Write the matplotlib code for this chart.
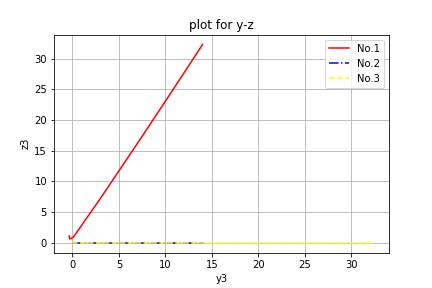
import matplotlib
matplotlib.use("Agg")
import matplotlib.pyplot as plt

y1 = [-0.35, -0.3, 0.1, 3.0, 7.0, 10.5, 14.0]
z1 = [1.1, 0.6, 0.9, 7.2, 16.2, 24.2, 32.3]
y2 = [0.0, 14.2]
z2 = [0.0, 0.0]
y3 = [0.0, 32.4]
z3 = [0.0, 0.0]

fig, ax = plt.subplots(figsize=(6, 4), dpi=72)
fig.subplots_adjust(bottom=0.123)
ax.plot(y1, z1, color="red", linestyle="-", label="No.1")
ax.plot(y2, z2, color="blue", linestyle="-.", label="No.2")
ax.plot(y3, z3, color="yellow", linestyle="--", label="No.3")
ax.set_title("plot for y-z")
ax.set_xlabel("y3")
ax.set_ylabel("z3")
ax.grid(True)
ax.legend(loc="upper right")
fig.savefig("out.png")
